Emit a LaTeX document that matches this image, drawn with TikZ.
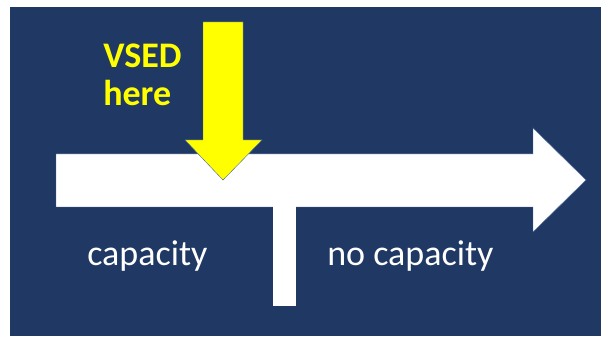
\documentclass[tikz,border=0pt]{standalone}
\usepackage{fontspec}
\setmainfont{Carlito}
\usepackage{xcolor}
\definecolor{bgblue}{HTML}{203864}
\definecolor{edgeblue}{HTML}{4A6A9A}
\definecolor{vsedyellow}{HTML}{FFFF00}
\usepackage{tikz}
\usetikzlibrary{positioning,calc}

\begin{document}
\begin{tikzpicture}[
    lbl/.style={font=\fontsize{25.6}{27.7}\selectfont, text=white, anchor=base west, inner sep=0pt},
    marker/.style={font=\fontsize{25.6}{27.7}\selectfont\bfseries, text=vsedyellow, anchor=base west, inner sep=0pt, align=left},
    outlined/.style={draw=edgeblue, line width=0.3pt}
  ]
          \useasboundingbox (0,0) rectangle (15.325,8.425);
          \fill[bgblue] (0.25,0.025) rectangle (15.025,8.25);

          % timeline arrow and the cut-off bar
          \filldraw[outlined, fill=white] (1.4,3.25) -- (1.4,4.575) -- (13.325,4.575) -- (13.325,5.225)
            -- (14.65,3.925) -- (13.325,2.625) -- (13.325,3.25) -- cycle;
          \fill[white] (6.825,0.775) rectangle (7.4,3.3);

          % VSED marker
          \filldraw[outlined, fill=vsedyellow] (5.075,7.875) -- (6.075,7.875) -- (6.075,4.925) -- (6.55,4.925)
            -- (5.575,3.925) -- (4.625,4.925) -- (5.075,4.925) -- cycle;
          \node[marker] (vsed) at (2.575,5.775) {VSED\\here};

          \node[lbl] (cap) at (2.175,1.8) {capacity};
          \node[lbl] (nocap) at (8.175,1.8) {no capacity};
        \end{tikzpicture}
\end{document}
